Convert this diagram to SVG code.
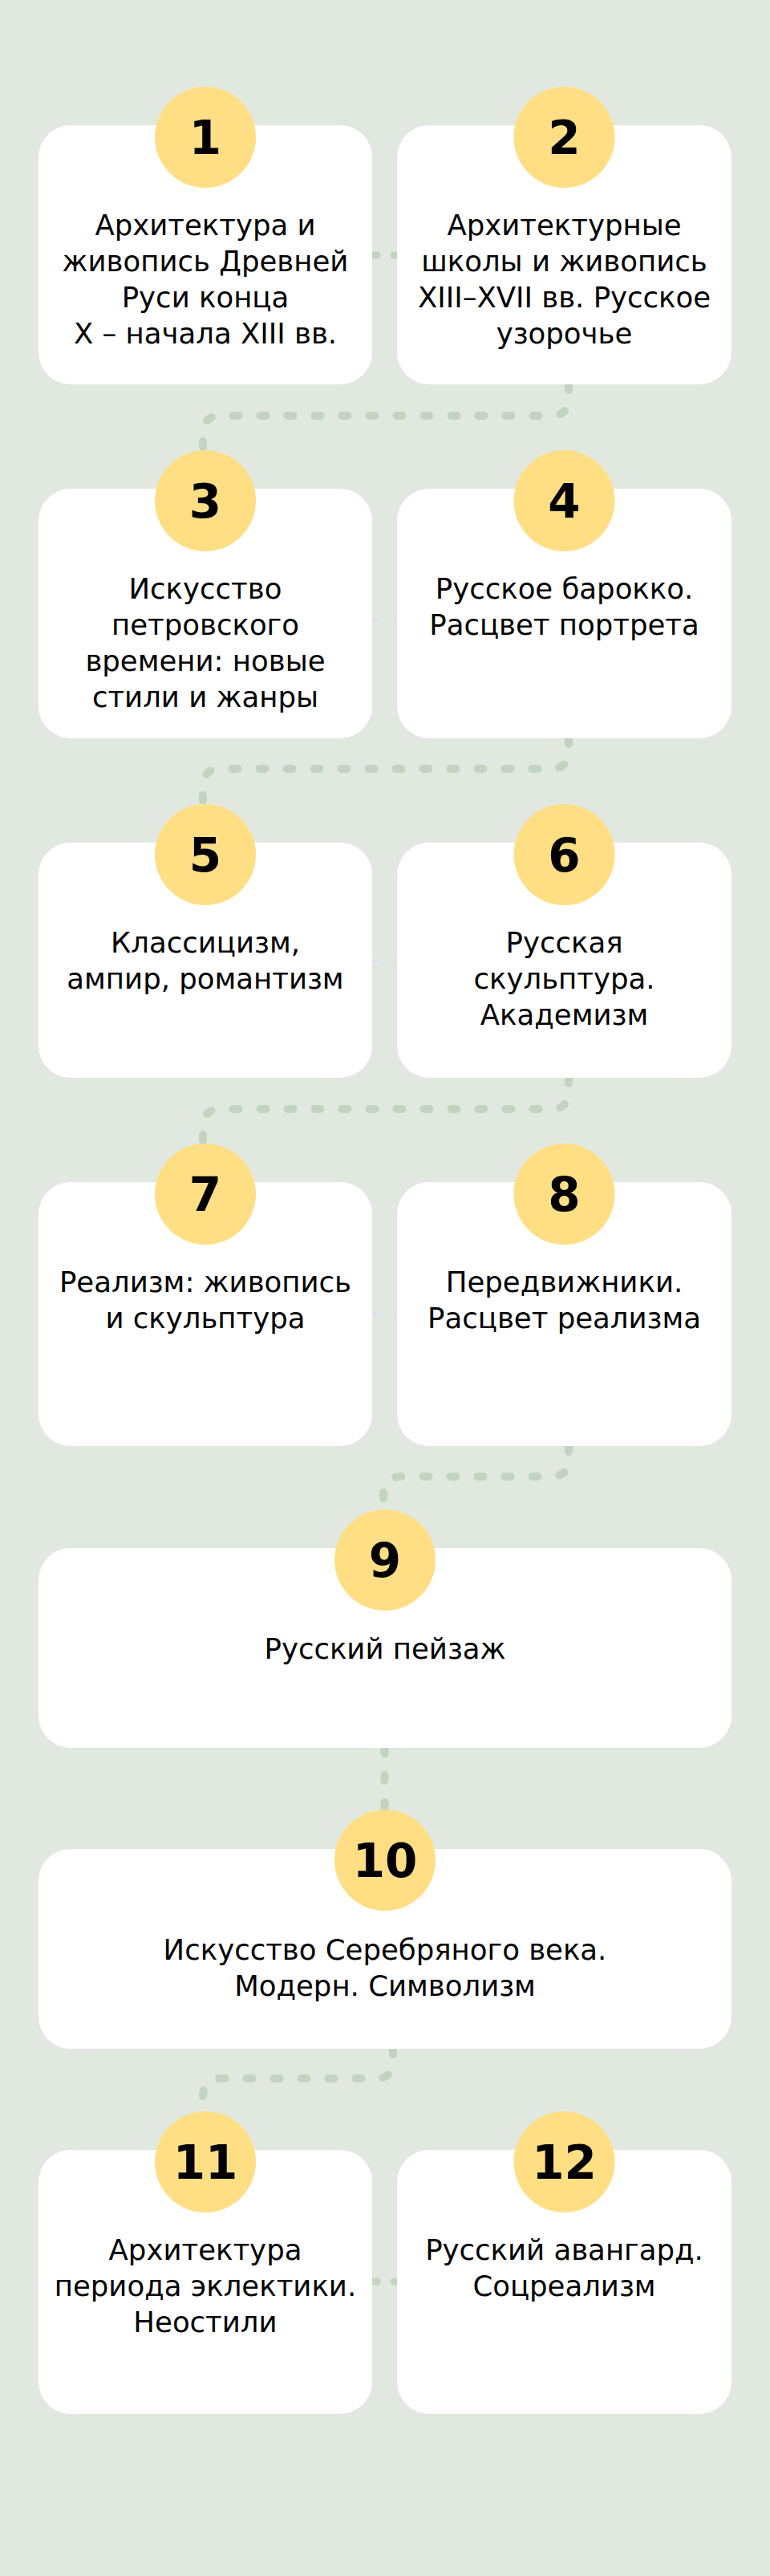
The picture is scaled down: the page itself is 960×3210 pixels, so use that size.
<svg xmlns="http://www.w3.org/2000/svg" width="960" height="3210" viewBox="0 0 960 3210">
<defs>
<style>
.bg{fill:#E1E8E0}
.card{fill:#FFFFFF}
.badge{fill:#FFDE84}
.num{font-family:"DejaVu Sans","Liberation Sans",sans-serif;font-weight:bold;font-size:58px;fill:#000;text-anchor:middle}
.lbl{font-family:"DejaVu Sans","Liberation Sans",sans-serif;font-size:35.5px;fill:#000;text-anchor:middle}
.dots{fill:none;stroke:#C2D4C1;stroke-width:10;stroke-linecap:round;stroke-linejoin:round;stroke-dasharray:7 27}
.pair{fill:none;stroke:#C2D4C1;stroke-width:9;stroke-linecap:round}
.faint{fill:none;stroke:#DCDCF7;stroke-width:3;stroke-linecap:round}
</style>
</defs>
<rect class="bg" x="0" y="0" width="960" height="3210"/>
<g id="connectors">
<path class="dots" d="M709,479 V496 Q709,518 687,518 H275 Q253,518 253,540 V562"/>
<path class="dots" d="M709,920 V936 Q709,958 687,958 H275 Q253,958 253,980 V1003"/>
<path class="dots" d="M709,1343 V1360 Q709,1382 687,1382 H275 Q253,1382 253,1404 V1426"/>
<path class="dots" d="M709,1802 V1818 Q709,1840 687,1840 H500 Q478,1840 478,1862 V1882"/>
<path class="dots" d="M479.5,2178 V2257"/>
<path class="dots" d="M490,2553 V2568 Q490,2590 468,2590 H275 Q253,2590 253,2612 V2632"/>
<path class="pair" d="M466,318 h4 M491,318 h4"/>
<path class="faint" d="M467,774 h4 M492,774 h4"/>
<path class="faint" d="M467,1197 h4 M492,1197 h4"/>
<path class="faint" d="M467,1637 h4 M492,1637 h4"/>
<path class="pair" d="M466,2843 h4 M491,2843 h4"/>
</g>
<g id="node1">
<rect class="card" x="48" y="156" width="416" height="323" rx="40"/>
<circle class="badge" cx="256" cy="171" r="63"/>
<text class="num" x="256" y="192">1</text>
<text class="lbl" x="256" y="293"><tspan x="256">Архитектура и</tspan><tspan x="256" dy="45">живопись Древней</tspan><tspan x="256" dy="45">Руси конца</tspan><tspan x="256" dy="45">X – начала XIII вв.</tspan></text>
</g>
<g id="node2">
<rect class="card" x="495" y="156" width="417" height="323" rx="40"/>
<circle class="badge" cx="703.5" cy="171" r="63"/>
<text class="num" x="703.5" y="192">2</text>
<text class="lbl" x="703.5" y="293"><tspan x="703.5">Архитектурные</tspan><tspan x="703.5" dy="45">школы и живопись</tspan><tspan x="703.5" dy="45">XIII–XVII вв. Русское</tspan><tspan x="703.5" dy="45">узорочье</tspan></text>
</g>
<g id="node3">
<rect class="card" x="48" y="609" width="416" height="311" rx="40"/>
<circle class="badge" cx="256" cy="624" r="63"/>
<text class="num" x="256" y="645">3</text>
<text class="lbl" x="256" y="746"><tspan x="256">Искусство</tspan><tspan x="256" dy="45">петровского</tspan><tspan x="256" dy="45">времени: новые</tspan><tspan x="256" dy="45">стили и жанры</tspan></text>
</g>
<g id="node4">
<rect class="card" x="495" y="609" width="417" height="311" rx="40"/>
<circle class="badge" cx="703.5" cy="624" r="63"/>
<text class="num" x="703.5" y="645">4</text>
<text class="lbl" x="703.5" y="746"><tspan x="703.5">Русское барокко.</tspan><tspan x="703.5" dy="45">Расцвет портрета</tspan></text>
</g>
<g id="node5">
<rect class="card" x="48" y="1050" width="416" height="293" rx="40"/>
<circle class="badge" cx="256" cy="1065" r="63"/>
<text class="num" x="256" y="1086">5</text>
<text class="lbl" x="256" y="1187"><tspan x="256">Классицизм,</tspan><tspan x="256" dy="45">ампир, романтизм</tspan></text>
</g>
<g id="node6">
<rect class="card" x="495" y="1050" width="417" height="293" rx="40"/>
<circle class="badge" cx="703.5" cy="1065" r="63"/>
<text class="num" x="703.5" y="1086">6</text>
<text class="lbl" x="703.5" y="1187"><tspan x="703.5">Русская</tspan><tspan x="703.5" dy="45">скульптура.</tspan><tspan x="703.5" dy="45">Академизм</tspan></text>
</g>
<g id="node7">
<rect class="card" x="48" y="1473" width="416" height="329" rx="40"/>
<circle class="badge" cx="256" cy="1488" r="63"/>
<text class="num" x="256" y="1509">7</text>
<text class="lbl" x="256" y="1610"><tspan x="256">Реализм: живопись</tspan><tspan x="256" dy="45">и скульптура</tspan></text>
</g>
<g id="node8">
<rect class="card" x="495" y="1473" width="417" height="329" rx="40"/>
<circle class="badge" cx="703.5" cy="1488" r="63"/>
<text class="num" x="703.5" y="1509">8</text>
<text class="lbl" x="703.5" y="1610"><tspan x="703.5">Передвижники.</tspan><tspan x="703.5" dy="45">Расцвет реализма</tspan></text>
</g>
<g id="node9">
<rect class="card" x="48" y="1929" width="864" height="249" rx="40"/>
<circle class="badge" cx="480" cy="1944" r="63"/>
<text class="num" x="480" y="1965">9</text>
<text class="lbl" x="480" y="2067">Русский пейзаж</text>
</g>
<g id="node10">
<rect class="card" x="48" y="2304" width="864" height="249" rx="40"/>
<circle class="badge" cx="480" cy="2318" r="63"/>
<text class="num" x="480" y="2339">10</text>
<text class="lbl" x="480" y="2442"><tspan x="480">Искусство Серебряного века.</tspan><tspan x="480" dy="45">Модерн. Символизм</tspan></text>
</g>
<g id="node11">
<rect class="card" x="48" y="2679" width="416" height="329" rx="40"/>
<circle class="badge" cx="256" cy="2694" r="63"/>
<text class="num" x="256" y="2715">11</text>
<text class="lbl" x="256" y="2816"><tspan x="256">Архитектура</tspan><tspan x="256" dy="45">периода эклектики.</tspan><tspan x="256" dy="45">Неостили</tspan></text>
</g>
<g id="node12">
<rect class="card" x="495" y="2679" width="417" height="329" rx="40"/>
<circle class="badge" cx="703.5" cy="2694" r="63"/>
<text class="num" x="703.5" y="2715">12</text>
<text class="lbl" x="703.5" y="2816"><tspan x="703.5">Русский авангард.</tspan><tspan x="703.5" dy="45">Соцреализм</tspan></text>
</g>
</svg>
